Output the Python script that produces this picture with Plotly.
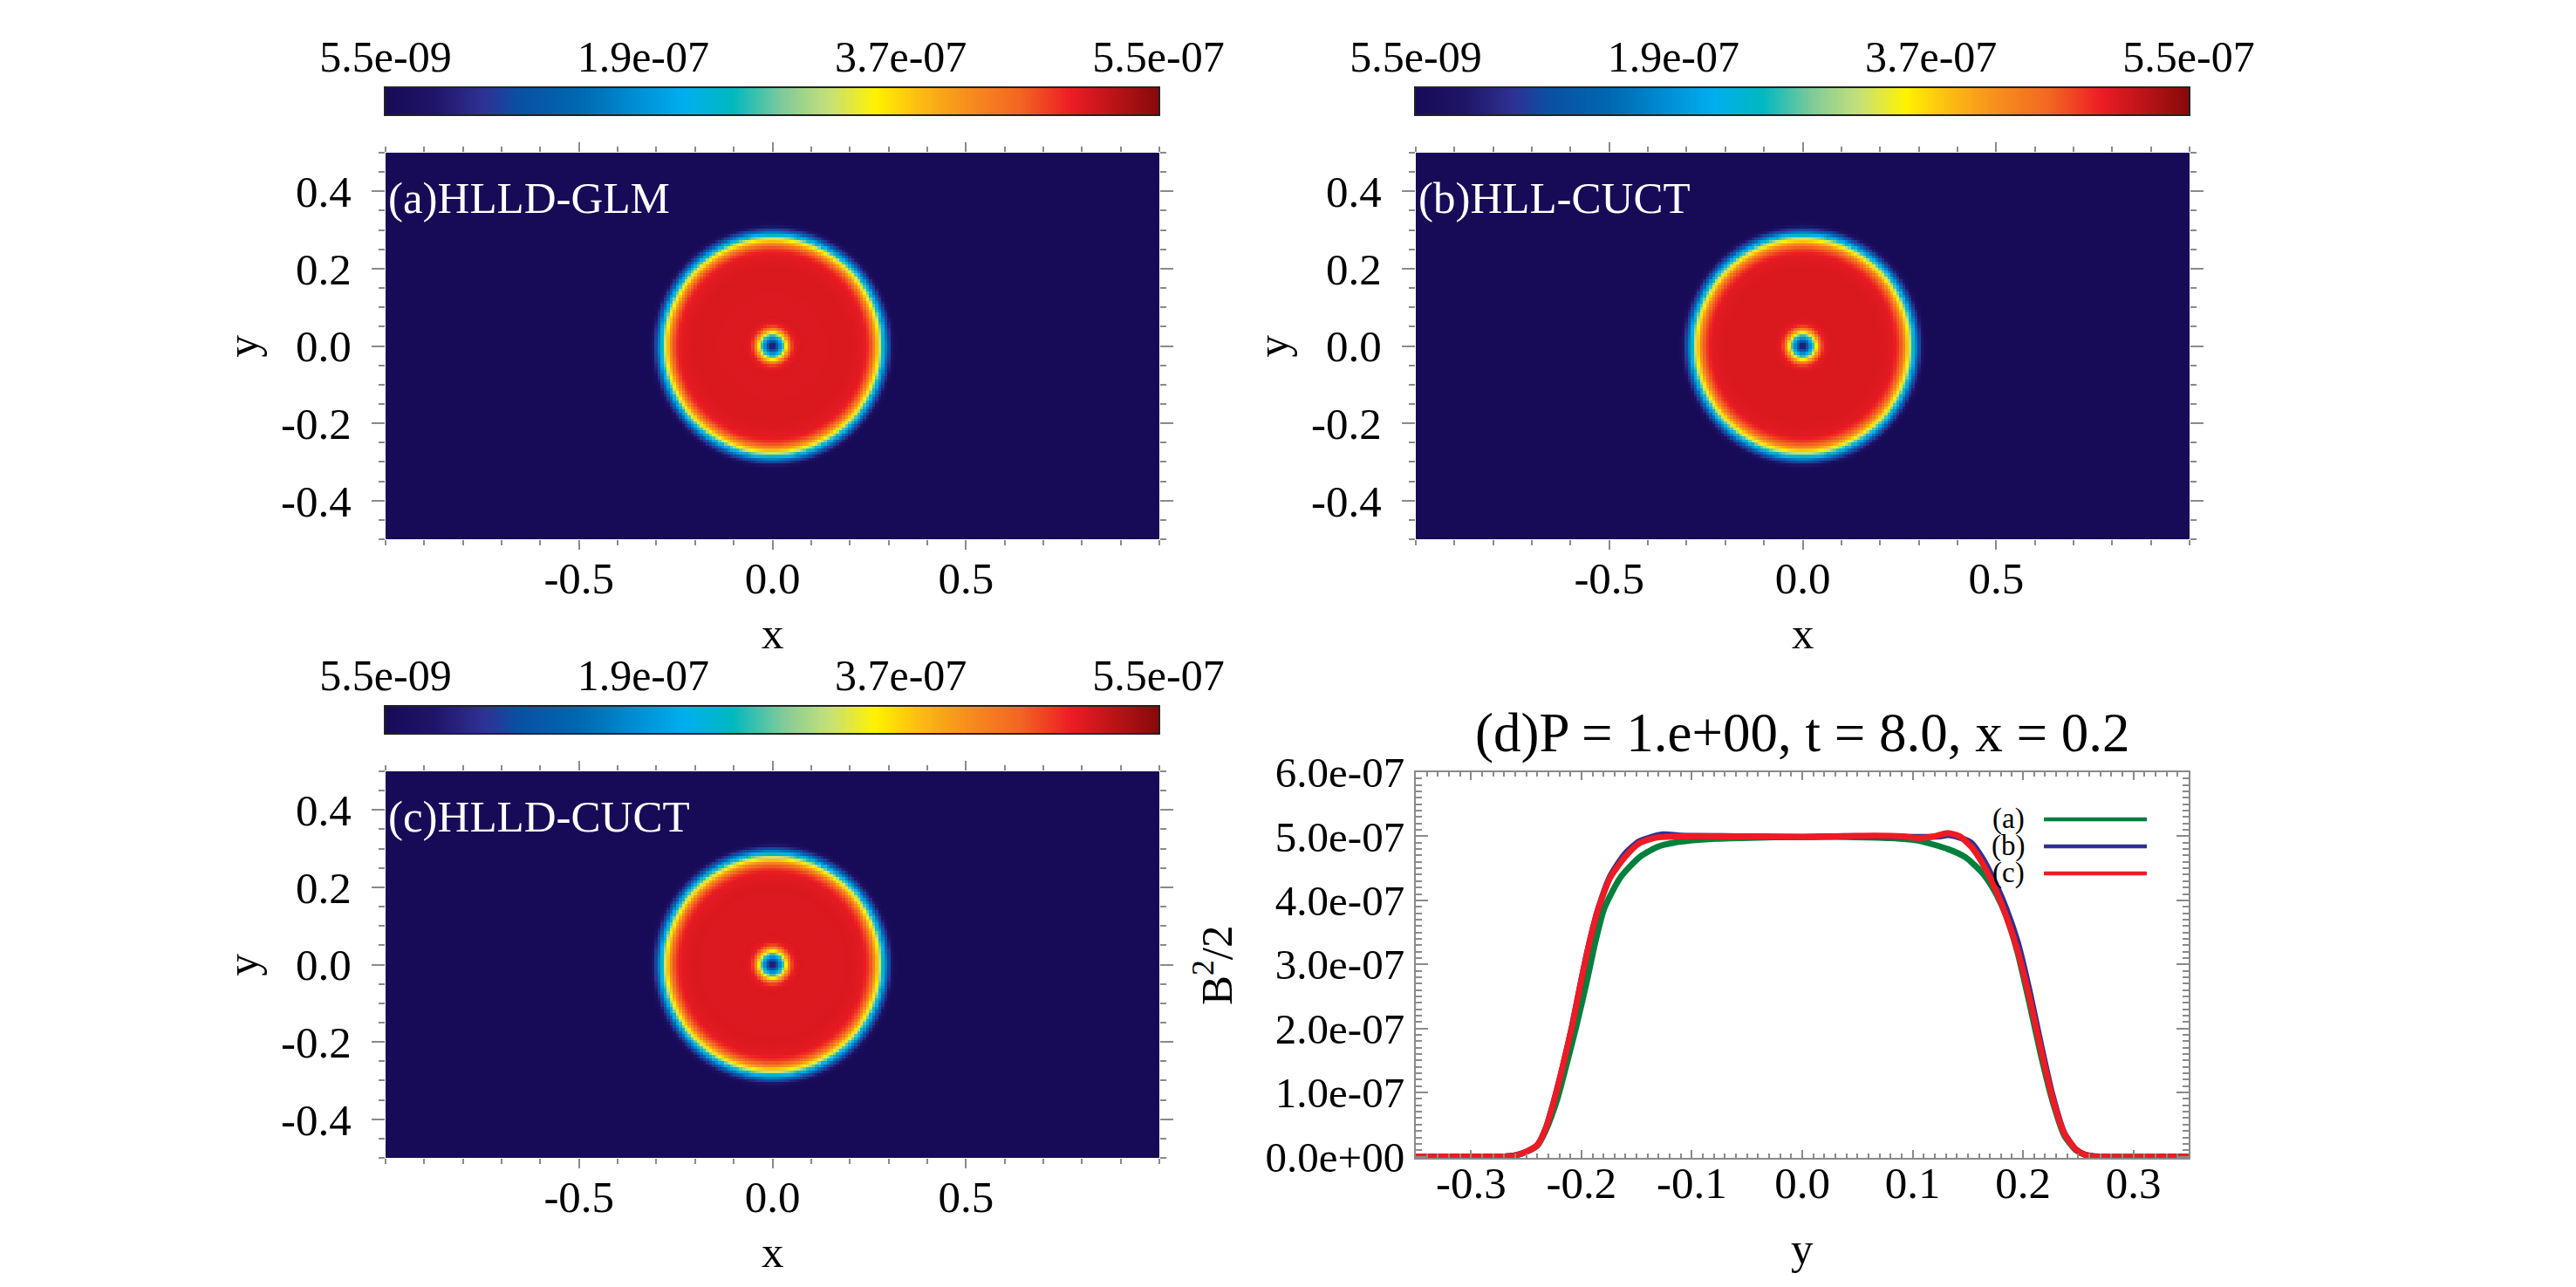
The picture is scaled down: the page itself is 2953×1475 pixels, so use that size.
import numpy as np
import plotly.graph_objects as go

W, H = 2953, 1475
FONT = "Liberation Serif"

# ---------------- data ----------------
vmin, vmax = 5.5e-9, 5.5e-7

# radial profiles of B^2/2 (units 1e-7)
r_prof = [0.0, 0.008, 0.016, 0.024, 0.032, 0.040, 0.048, 0.056, 0.07, 0.10, 0.15,
          0.20, 0.235, 0.245, 0.255, 0.262, 0.27, 0.277, 0.284, 0.291, 0.298,
          0.305, 0.312, 0.32, 0.33, 1.2]
v_prof_a = [0.3, 0.6, 1.4, 2.2, 3.2, 4.0, 4.6, 4.9, 5.0, 4.98, 5.0,
            5.0, 4.95, 4.85, 4.6, 4.3, 3.8, 3.3, 2.6, 1.9, 1.2,
            0.6, 0.2, 0.06, 0.055, 0.055]
v_prof_b = [0.3, 0.6, 1.4, 2.2, 3.2, 4.0, 4.6, 4.9, 5.0, 5.0, 5.0,
            5.0, 4.95, 4.8, 4.55, 4.25, 3.75, 3.25, 2.6, 1.9, 1.2,
            0.6, 0.2, 0.06, 0.055, 0.055]
v_prof_c = [0.3, 0.6, 1.4, 2.2, 3.2, 4.0, 4.6, 4.9, 5.0, 4.98, 4.98,
            5.0, 4.95, 4.82, 4.58, 4.28, 3.78, 3.28, 2.6, 1.9, 1.2,
            0.6, 0.2, 0.06, 0.055, 0.055]

# cut at x = 0.2 (units 1e-7)
y_a = [-0.35, -0.27, -0.26, -0.2506, -0.24, -0.232, -0.2216, -0.2125, -0.2045, -0.1953,
       -0.1874, -0.1794, -0.165, -0.1477, -0.1319, -0.116, -0.079, -0.04, 0.0, 0.04,
       0.08, 0.1055, 0.132, 0.148, 0.1635, 0.174, 0.1846, 0.1951, 0.2057, 0.2162,
       0.2268, 0.2373, 0.2479, 0.256, 0.27, 0.35]
b_a = [0.0, 0.0, 0.02, 0.07, 0.17, 0.42, 0.91, 1.5, 2.04, 2.72,
       3.35, 3.87, 4.35, 4.67, 4.83, 4.9, 4.96, 4.98, 4.99, 4.99,
       4.97, 4.93, 4.8, 4.67, 4.42, 4.15, 3.76, 3.18, 2.40, 1.58,
       0.86, 0.33, 0.10, 0.03, 0.0, 0.0]

y_b = [-0.35, -0.27, -0.26, -0.2506, -0.24, -0.2321, -0.2242, -0.2163, -0.2084, -0.2005,
       -0.1926, -0.1847, -0.1741, -0.1609, -0.1477, -0.1266, -0.11, -0.06, 0.0, 0.03,
       0.066, 0.1055, 0.125, 0.132, 0.1424, 0.1529, 0.1635, 0.174, 0.1846, 0.1951,
       0.2057, 0.2162, 0.2268, 0.2373, 0.2479, 0.256, 0.265, 0.35]
b_b = [0.0, 0.0, 0.02, 0.07, 0.18, 0.45, 0.91, 1.45, 2.04, 2.72,
       3.35, 3.87, 4.37, 4.72, 4.92, 5.03, 5.01, 5.0, 4.99, 5.0,
       5.0, 4.99, 5.0, 5.02, 4.98, 4.9, 4.65, 4.3, 3.88, 3.35,
       2.6, 1.75, 0.95, 0.37, 0.11, 0.03, 0.0, 0.0]

y_c = [-0.35, -0.27, -0.26, -0.2506, -0.24, -0.2321, -0.2242, -0.2163, -0.2084, -0.2005,
       -0.1926, -0.1847, -0.1741, -0.1609, -0.1477, -0.1319, -0.11, -0.06, 0.0, 0.03,
       0.066, 0.09, 0.1055, 0.12, 0.132, 0.1424, 0.1529, 0.1635, 0.174, 0.1846,
       0.1951, 0.2057, 0.2162, 0.2268, 0.2373, 0.2479, 0.256, 0.2637, 0.35]
b_c = [0.0, 0.0, 0.02, 0.07, 0.18, 0.45, 0.91, 1.45, 2.04, 2.72,
       3.35, 3.87, 4.35, 4.67, 4.89, 4.98, 5.0, 5.0, 4.99, 5.0,
       5.01, 5.0, 4.97, 5.0, 5.05, 5.0, 4.84, 4.57, 4.21, 3.76,
       3.21, 2.49, 1.67, 0.91, 0.36, 0.11, 0.03, 0.0, 0.0]

cbar_ticks = [vmin + k * (vmax - vmin) / 3 for k in range(4)]
panel_labels = ["(a)HLLD-GLM", "(b)HLL-CUCT", "(c)HLLD-CUCT"]
legend_labels = ["(a)", "(b)", "(c)"]
line_colors = ["#00803c", "#2e3192", "#ed1c24"]
title_d = "(d)P = 1.e+00, t = 8.0, x = 0.2"

colorscale = [
    [0.0, "#170b58"], [0.06, "#1e1466"], [0.126, "#2e3192"], [0.171, "#0b4fa3"],
    [0.25, "#0067b1"], [0.385, "#00aeef"], [0.449, "#00b8bf"], [0.515, "#82cb98"],
    [0.573, "#c5e07a"], [0.634, "#fff200"], [0.686, "#fcc010"], [0.743, "#f7941d"],
    [0.822, "#f26522"], [0.887, "#ed1c24"], [1.0, "#870a0a"],
]

# ---------------- grid ----------------
nx, ny = 256, 128
xc = np.linspace(-1 + 1.0 / nx, 1 - 1.0 / nx, nx)
yc = np.linspace(-0.5 + 0.5 / ny, 0.5 - 0.5 / ny, ny)
XX, YY = np.meshgrid(xc, yc)
RR = np.sqrt(XX ** 2 + YY ** 2)


def field(vp):
    return np.clip(np.interp(RR, r_prof, vp) * 1e-7, vmin, vmax)


def px(x):
    return x / W


def py(y):
    return 1 - y / H


# panel pixel boxes (left, right, top, bottom)
boxes = {
    1: (442, 1329, 175, 618),
    2: (1623, 2510, 175, 618),
    3: (442, 1329, 884, 1327),
    4: (1623, 2509, 885, 1327),
}
cbar_boxes = {5: (442, 1328, 101, 131), 6: (1623, 2509, 101, 131), 7: (442, 1328, 810, 840)}

fig = go.Figure()

for i, vp in zip([1, 2, 3], [v_prof_a, v_prof_b, v_prof_c]):
    sfx = "" if i == 1 else str(i)
    fig.add_trace(go.Heatmap(x=xc, y=yc, z=field(vp), colorscale=colorscale, zmin=vmin,
                             zmax=vmax, showscale=False, zsmooth=False, hoverinfo="skip",
                             xaxis="x" + sfx, yaxis="y" + sfx))

for yy, bb, col in zip([y_a, y_b, y_c], [b_a, b_b, b_c], line_colors):
    fig.add_trace(go.Scatter(x=yy, y=np.array(bb) * 1e-7, mode="lines",
                             line=dict(color=col, width=7, shape="spline", smoothing=0.6),
                             xaxis="x4", yaxis="y4", hoverinfo="skip"))

cb_vals = np.linspace(vmin, vmax, 400)
for i in [5, 6, 7]:
    fig.add_trace(go.Heatmap(x=cb_vals, y=[0], z=[cb_vals], colorscale=colorscale,
                             zmin=vmin, zmax=vmax, showscale=False, hoverinfo="skip",
                             xaxis="x" + str(i), yaxis="y" + str(i)))

tick_gray = "#8a8a8a"
tf = dict(family=FONT, size=51, color="black")

lay = dict(width=W, height=H, margin=dict(l=0, r=0, t=0, b=0, autoexpand=False),
           paper_bgcolor="white", plot_bgcolor="white", showlegend=False,
           font=dict(family=FONT, color="black"))

hx_vals = [-0.5, 0.0, 0.5]
hy_vals = [-0.4, -0.2, 0.0, 0.2, 0.4]
for i in [1, 2, 3]:
    l, r, t, b = boxes[i]
    sfx = "" if i == 1 else str(i)
    lay["xaxis" + sfx] = dict(
        domain=[px(l), px(r)], anchor="y" + sfx, range=[-1, 1], automargin=False,
        tickmode="array", tickvals=hx_vals, ticktext=["%.1f" % v for v in hx_vals],
        ticks="outside", ticklen=11, tickwidth=2, tickcolor=tick_gray,
        minor=dict(tickmode="linear", tick0=0, dtick=0.1, ticks="outside", ticklen=6,
                   tickwidth=1.5, tickcolor=tick_gray),
        mirror="ticks", showgrid=False, zeroline=False, showline=False,
        tickfont=tf, ticklabelstandoff=-11)
    lay["yaxis" + sfx] = dict(
        domain=[py(b), py(t)], anchor="x" + sfx, range=[-0.5, 0.5], automargin=False,
        tickmode="array", tickvals=hy_vals, ticktext=["%.1f" % v for v in hy_vals],
        ticks="outside", ticklen=15, tickwidth=2, tickcolor=tick_gray,
        minor=dict(tickmode="linear", tick0=0, dtick=0.05, ticks="outside", ticklen=7,
                   tickwidth=1.5, tickcolor=tick_gray),
        mirror="ticks", showgrid=False, zeroline=False, showline=False,
        tickfont=tf, ticklabelstandoff=13)

l, r, t, b = boxes[4]
dx_vals = [-0.3, -0.2, -0.1, 0.0, 0.1, 0.2, 0.3]
dy_vals = [k * 1e-7 for k in range(7)]
lay["xaxis4"] = dict(
    domain=[px(l), px(r)], anchor="y4", range=[-0.35, 0.35], automargin=False,
    tickmode="array", tickvals=dx_vals, ticktext=["%.1f" % v for v in dx_vals],
    ticks="inside", ticklen=9, tickwidth=2, tickcolor=tick_gray,
    minor=dict(tickmode="linear", tick0=0, dtick=0.01, ticks="inside", ticklen=5,
               tickwidth=1.5, tickcolor=tick_gray),
    mirror="ticks", showline=True, linecolor=tick_gray, linewidth=2,
    showgrid=False, zeroline=False, tickfont=tf, ticklabelstandoff=-17)
lay["yaxis4"] = dict(
    domain=[py(b), py(t)], anchor="x4", range=[-0.02e-7, 6.0e-7], automargin=False,
    tickmode="array", tickvals=dy_vals, ticktext=["%.1e" % v for v in dy_vals],
    ticks="inside", ticklen=14, tickwidth=2, tickcolor=tick_gray,
    minor=dict(tickmode="linear", tick0=0, dtick=1e-8, ticks="inside", ticklen=7,
               tickwidth=1.5, tickcolor=tick_gray),
    mirror="ticks", showline=True, linecolor=tick_gray, linewidth=2,
    showgrid=False, zeroline=False, tickfont=dict(family=FONT, size=49, color="black"),
    ticklabelstandoff=1)

for i in [5, 6, 7]:
    l, r, t, b = cbar_boxes[i]
    lay["xaxis" + str(i)] = dict(
        domain=[px(l), px(r)], anchor="y" + str(i), range=[vmin, vmax], side="top",
        automargin=False,
        tickmode="array", tickvals=cbar_ticks, ticktext=["%.1e" % v for v in cbar_ticks],
        ticks="", showline=True, linecolor="#222222", linewidth=1.5, mirror=True,
        showgrid=False, zeroline=False, tickfont=dict(family=FONT, size=50, color="black"),
        ticklabelstandoff=-3)
    lay["yaxis" + str(i)] = dict(
        domain=[py(b), py(t)], anchor="x" + str(i), range=[-0.5, 0.5], automargin=False,
        showticklabels=False, ticks="", showline=True, linecolor="#222222",
        linewidth=1.5, mirror=True, showgrid=False, zeroline=False)

ann = []
shapes = []


def add_text(txt, x, y, size, color="black", xanchor="center", angle=0):
    ann.append(dict(text=txt, x=px(x), y=py(y), xref="paper", yref="paper",
                    xanchor=xanchor, yanchor="middle", showarrow=False, textangle=angle,
                    font=dict(family=FONT, size=size, color=color)))


# panel labels
for i, txt in zip([1, 2, 3], panel_labels):
    l, r, t, b = boxes[i]
    add_text(txt, l + 1, t + 52, 51, color="white", xanchor="left")
# axis titles for maps
for i in [1, 2, 3]:
    l, r, t, b = boxes[i]
    add_text("x", (l + r) / 2, b + 108, 51)
    add_text("y", l - 165, (t + b) / 2, 51, angle=-90)
# line plot titles
l, r, t, b = boxes[4]
add_text("y", (l + r) / 2, b + 104, 51)
add_text("B<sup>2</sup>/2", l - 232, (t + b) / 2, 51, angle=-90)
add_text(title_d, (l + r) / 2, 840, 63)
# legend
for k, (lab, col) in enumerate(zip(legend_labels, line_colors)):
    yy = 939 + 31 * k
    add_text(lab, 2323, yy - 1, 33, xanchor="right")
    shapes.append(dict(type="line", xref="paper", yref="paper", x0=px(2343), x1=px(2461),
                       y0=py(yy), y1=py(yy), line=dict(color=col, width=4.5)))

lay["annotations"] = ann
lay["shapes"] = shapes
fig.update_layout(**lay)
fig.write_html("out.html")
